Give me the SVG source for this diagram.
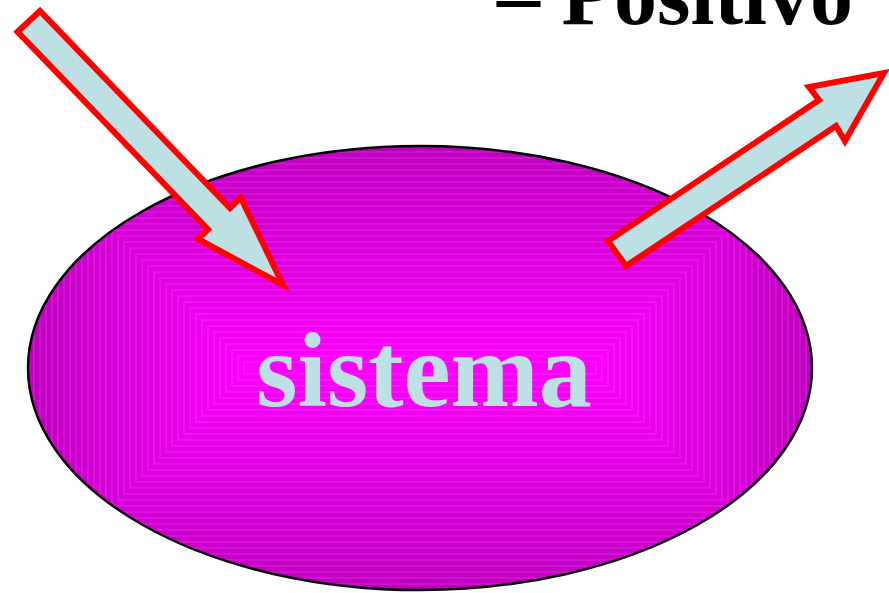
<svg xmlns="http://www.w3.org/2000/svg" width="889" height="593" viewBox="0 0 889 593">
<style>
.arrow{fill:#BCE0E4;stroke:#FF0000;stroke-width:6;stroke-linejoin:miter;stroke-miterlimit:10}
.step{stroke:#FF90FF;stroke-opacity:0.35;stroke-width:0.8}
.title{font-family:"Liberation Serif","Times New Roman",serif;font-weight:bold}
</style>
<defs>
<clipPath id="ellClip"><ellipse cx="420" cy="368" rx="392" ry="222"/></clipPath>
</defs>
<rect width="889" height="593" fill="#FFFFFF"/>
<g id="title">
<text class="title" x="497" y="24" font-size="86" fill="#000000">– Positivo</text>
</g>
<g id="sistema">
<g clip-path="url(#ellClip)">
<rect class="step" x="28" y="146" width="784" height="444" fill="#C000C0"/>
<rect class="step" x="34" y="152" width="772" height="432" fill="#C200C2"/>
<rect class="step" x="40" y="158" width="760" height="420" fill="#C300C3"/>
<rect class="step" x="46" y="164" width="748" height="408" fill="#C500C5"/>
<rect class="step" x="52" y="170" width="736" height="396" fill="#C700C7"/>
<rect class="step" x="58" y="176" width="724" height="384" fill="#C800C8"/>
<rect class="step" x="64" y="182" width="712" height="372" fill="#CA00CA"/>
<rect class="step" x="70" y="188" width="700" height="360" fill="#CC00CC"/>
<rect class="step" x="76" y="194" width="688" height="348" fill="#CE00CE"/>
<rect class="step" x="82" y="200" width="676" height="336" fill="#CF00CF"/>
<rect class="step" x="88" y="206" width="664" height="324" fill="#D100D1"/>
<rect class="step" x="94" y="212" width="652" height="312" fill="#D300D3"/>
<rect class="step" x="100" y="218" width="640" height="300" fill="#D400D4"/>
<rect class="step" x="106" y="224" width="628" height="288" fill="#D600D6"/>
<rect class="step" x="112" y="230" width="616" height="276" fill="#D800D8"/>
<rect class="step" x="118" y="236" width="604" height="264" fill="#DA00DA"/>
<rect class="step" x="124" y="242" width="592" height="252" fill="#DB00DB"/>
<rect class="step" x="130" y="248" width="580" height="240" fill="#DD00DD"/>
<rect class="step" x="136" y="254" width="568" height="228" fill="#DF00DF"/>
<rect class="step" x="142" y="260" width="556" height="216" fill="#E000E0"/>
<rect class="step" x="148" y="266" width="544" height="204" fill="#E200E2"/>
<rect class="step" x="154" y="272" width="532" height="192" fill="#E400E4"/>
<rect class="step" x="160" y="278" width="520" height="180" fill="#E600E6"/>
<rect class="step" x="166" y="284" width="508" height="168" fill="#E700E7"/>
<rect class="step" x="172" y="290" width="496" height="156" fill="#E900E9"/>
<rect class="step" x="178" y="296" width="484" height="144" fill="#EB00EB"/>
<rect class="step" x="184" y="302" width="472" height="132" fill="#EC00EC"/>
<rect class="step" x="190" y="308" width="460" height="120" fill="#EE00EE"/>
<rect class="step" x="196" y="314" width="448" height="108" fill="#F000F0"/>
<rect class="step" x="202" y="320" width="436" height="96" fill="#F100F1"/>
<rect class="step" x="208" y="326" width="424" height="84" fill="#F300F3"/>
<rect class="step" x="214" y="332" width="412" height="72" fill="#F500F5"/>
<rect class="step" x="220" y="338" width="400" height="60" fill="#F600F6"/>
<rect class="step" x="226" y="344" width="388" height="48" fill="#F800F8"/>
<rect class="step" x="232" y="350" width="376" height="36" fill="#FA00FA"/>
<rect class="step" x="238" y="356" width="364" height="24" fill="#FC00FC"/>
<rect class="step" x="244" y="362" width="352" height="12" fill="#FD00FD"/>
</g>
<ellipse cx="420" cy="368" rx="392" ry="222" fill="none" stroke="#000000" stroke-width="2.5"/>
<text class="title" x="424" y="406" font-size="106" fill="#BCE0E4" text-anchor="middle">sistema</text>
</g>
<g id="connectors">
<polygon id="arrow-in" class="arrow" points="17.6,31.8 40,11 230,208 240.8,197.6 283,285 198,239 208,229.5"/>
<polygon id="arrow-out" class="arrow" points="608,241 819,100 809,87 884,73 845,141 836,126 626,266"/>
</g>
</svg>
